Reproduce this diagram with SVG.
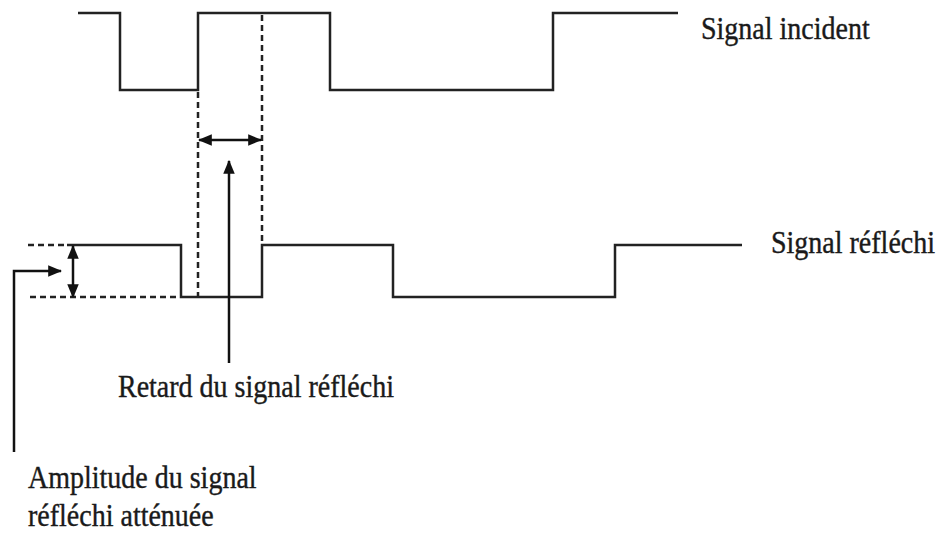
<svg xmlns="http://www.w3.org/2000/svg" width="936" height="536" viewBox="0 0 936 536">
<style>
.sig{fill:none;stroke:#222;stroke-width:2.5;stroke-linejoin:miter}
.dash{fill:none;stroke:#222;stroke-width:2.5;stroke-dasharray:6,4}
.arr{fill:none;stroke:#111;stroke-width:2.5}
.lbl{font-family:"Liberation Serif","Times New Roman",serif;font-size:28px;fill:#1a1a1a;stroke:#1a1a1a;stroke-width:0.35}
</style>
<defs>
<marker id="ah" viewBox="0 0 12 10" refX="11" refY="5" markerWidth="5.6" markerHeight="4.6" orient="auto-start-reverse" markerUnits="strokeWidth" preserveAspectRatio="none">
<path d="M0,0 L12,5 L0,10 z" fill="#111"/>
</marker>
</defs>
<rect width="936" height="536" fill="#fff"/>
<g id="incident">
<polyline class="sig" points="78,13 120,13 120,90 198,90 198,13 330,13 330,90 553,90 553,13 678,13"/>
</g>
<g id="reflechi">
<polyline class="sig" points="67,245 181,245 181,297 262,297 262,245 393,245 393,297 615,297 615,245 742,245"/>
</g>
<g id="guides">
<line class="dash" x1="198" y1="92" x2="198" y2="296"/>
<line class="dash" x1="262" y1="15" x2="262" y2="244"/>
<line class="dash" x1="28" y1="245" x2="66" y2="245"/>
<line class="dash" x1="30" y1="297" x2="180" y2="297"/>
</g>
<g id="connectors">
<line class="arr" x1="199" y1="140" x2="261" y2="140" marker-start="url(#ah)" marker-end="url(#ah)"/>
<line class="arr" x1="229" y1="363" x2="229" y2="161" marker-end="url(#ah)"/>
<line class="arr" x1="73" y1="246" x2="73" y2="297" marker-start="url(#ah)" marker-end="url(#ah)"/>
<polyline class="arr" points="14,452 14,271 61,271" marker-end="url(#ah)"/>
</g>
<g id="labels">
<text class="lbl" transform="translate(701,39) scale(1,1.12)">Signal incident</text>
<text class="lbl" transform="translate(771,253) scale(1,1.12)">Signal réfléchi</text>
<text class="lbl" transform="translate(118,397) scale(1,1.12)">Retard du signal réfléchi</text>
<text class="lbl" transform="translate(28,488) scale(1,1.12)">Amplitude du signal</text>
<text class="lbl" transform="translate(28,526) scale(1,1.12)">réfléchi atténuée</text>
</g>
</svg>
